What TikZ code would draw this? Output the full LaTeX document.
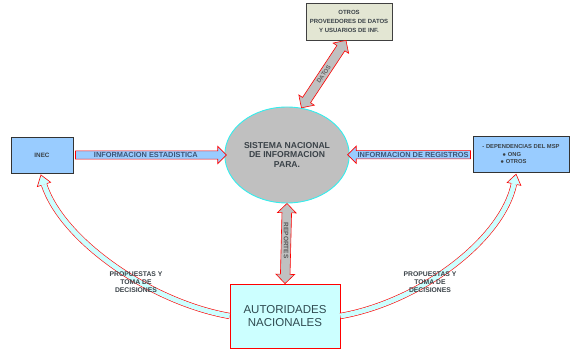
\documentclass[tikz,border=0pt]{standalone}
\usepackage{fontspec}
\setmainfont{Liberation Sans}
\usetikzlibrary{shapes.geometric,shapes.arrows,calc,decorations.markings}
\definecolor{boxblue}{HTML}{99CCFF}
\definecolor{ellgray}{HTML}{C0C0C0}
\definecolor{ellcyan}{HTML}{33EEEE}
\definecolor{lightcyan}{HTML}{CCFFFF}
\definecolor{beige}{HTML}{E3E6D3}
\definecolor{txt}{HTML}{3A4248}
\definecolor{bluetxt}{HTML}{3E5577}
\definecolor{tealtxt}{HTML}{2F4A50}
\begin{document}
\begin{tikzpicture}[x=1pt,y=-1pt,
  every node/.style={font=\bfseries, text=txt, align=center, inner sep=1pt},
  tbox/.style={draw=black!75, line width=0.8pt, fill=beige, minimum width=86pt, minimum height=37pt, font=\bfseries\fontsize{6}{8.8}\selectfont},
  ellnode/.style={ellipse, draw=ellcyan, line width=0.9pt, fill=ellgray, minimum width=116pt, minimum height=96pt, font=\bfseries\fontsize{8.6}{9.4}\selectfont},
  bbox/.style={draw=black!80, line width=0.9pt, fill=boxblue, minimum height=36pt, font=\bfseries\fontsize{6.3}{8}\selectfont},
  abox/.style={draw=red, line width=0.8pt, fill=lightcyan, minimum width=110pt, minimum height=64pt, font=\fontsize{11.5}{13}\selectfont, text=tealtxt},
  barrow/.style={single arrow, draw=red, line width=0.6pt, fill=boxblue, inner sep=3.8pt, single arrow head extend=4.5pt, text height=0pt, text depth=0pt, minimum width=0pt},
  darrow/.style={double arrow, draw=red, line width=0.6pt, fill=ellgray, inner sep=4.5pt, double arrow head extend=4.5pt, text height=0pt, text depth=0pt, minimum width=0pt},
  alabel/.style={font=\bfseries\fontsize{7.4}{8}\selectfont, text=bluetxt},
  clabel/.style={font=\bfseries\fontsize{6.8}{8}\selectfont},
  curvearrow/.style={draw=red, line width=0.6pt, double=lightcyan, double distance=5pt,
    postaction={decorate, decoration={markings, mark=at position 1 with {
      \filldraw[draw=red, fill=lightcyan, line width=0.6pt] (0,-3.1)--(0,-7)--(10,0)--(0,7)--(0,3.1);}}}}
]
\useasboundingbox (0,0) rectangle (570,352);

% nodes
\node[tbox] (T) at (349,21.5) {OTROS\\PROVEEDORES DE DATOS\\Y USUARIOS DE INF.};
\node[ellnode] (S) at (287,155) {SISTEMA NACIONAL\\DE INFORMACION\\PARA.};
\node[bbox, minimum width=62pt] (L) at (42,155) {INEC};
\node[bbox, minimum width=96pt, align=left, font=\bfseries\fontsize{5.8}{7.5}\selectfont] (R) at (521,154.5) {- DEPENDENCIAS DEL MSP\\\hspace*{20pt}$\bullet$ ONG\\\hspace*{18pt}$\bullet$ OTROS};
\node[abox] (B) at (285,316) {AUTORIDADES\\NACIONALES};

% straight block arrows
\path let \p1=($(S.west)-(L.east)$), \n1={veclen(\x1,\y1)} in
  node[barrow, minimum height=\n1] (A1) at ($(L.east)!0.5!(S.west)$) {};
\node[alabel] (A1t) at ($(A1.center)+(-3,0)$) {INFORMACION ESTADISTICA};

\path let \p1=($(R.west)-(S.east)$), \n1={veclen(\x1,\y1)} in
  node[barrow, minimum height=\n1, rotate=180] (A2) at ($(S.east)!0.5!(R.west)$) {};
\node[alabel] (A2t) at ($(A2.center)+(2,0)$) {INFORMACION DE REGISTROS};

\path let \p1=($(B.north)-(S.south)$), \n1={veclen(\x1,\y1)}, \n2={atan2(\y1,\x1)} in
  node[darrow, minimum height=\n1, rotate=\n2] (A3) at ($(S.south)!0.5!(B.north)$) {};
\node[font=\bfseries\fontsize{6.5}{7}\selectfont, rotate=-90, text=black!65] (A3t) at ($(A3.center)+(0,-3)$) {REPORTES};

\coordinate (Ttop) at ($(T.south)+(-3,0)$);
\path let \p1=($(Ttop)-(S.73)$), \n1={veclen(\x1,\y1)}, \n2={atan2(\y1,\x1)} in
  node[darrow, minimum height=\n1, rotate=\n2] (A4) at ($(S.73)!0.5!(Ttop)$) {};
\node[font=\bfseries\fontsize{6}{7}\selectfont, rotate=55, text=black!60, inner sep=0pt] (A4t) at (A4.center) {DATOS};

% curved arrows
\coordinate (Lend) at ($(L.south)+(2,11)$);
\coordinate (Rend) at ($(R.south)+(-7,11)$);
\draw[curvearrow] (B.west) .. controls (150,302) and (62,240) .. (Lend);
\draw[curvearrow] (B.east) .. controls (420,302) and (502,240) .. (Rend);

\node[clabel] (P1) at (136,282) {PROPUESTAS Y\\TOMA DE\\DECISIONES};
\node[clabel] (P2) at (430,282) {PROPUESTAS Y\\TOMA DE\\DECISIONES};
\end{tikzpicture}
\end{document}
